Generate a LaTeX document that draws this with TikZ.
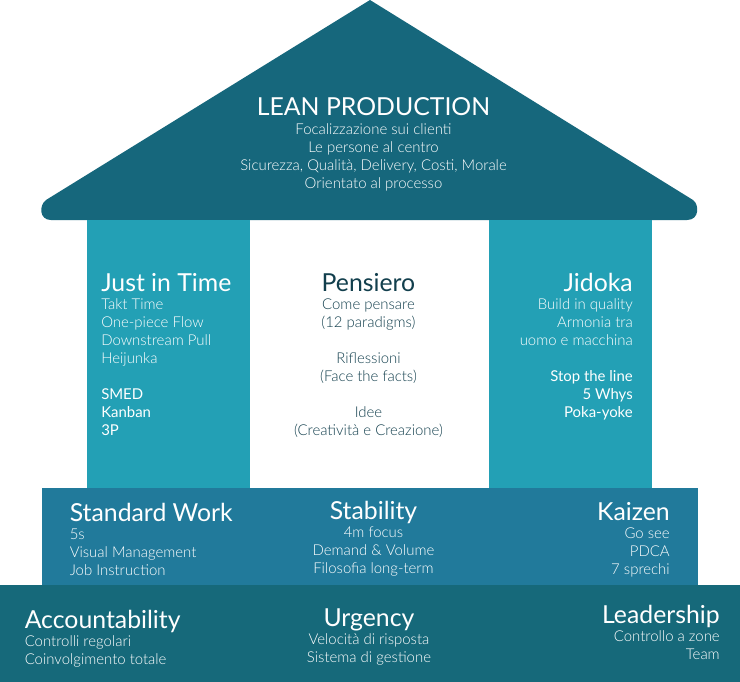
\documentclass[tikz,border=0pt]{standalone}
\usepackage{fontspec}
\setmainfont{Lato Light}[BoldFont=Lato]
\newfontfamily\headfont{Lato}
\definecolor{roof}{HTML}{16677C}
\definecolor{pillar}{HTML}{23A0B5}
\definecolor{midband}{HTML}{217A9B}
\definecolor{base}{HTML}{16697A}
\definecolor{darktxt}{HTML}{123F4D}
\tikzset{x=0.75pt,y=-0.75pt,
 head/.style={font=\headfont\fontsize{18.6}{22}\selectfont,text=white,inner sep=0,anchor=base},
 body/.style={font=\fontsize{11.2}{13.5}\selectfont,text=white,inner sep=0,anchor=base},
 boldbody/.style={font=\headfont\fontsize{11.2}{13.5}\selectfont,text=white,inner sep=0,anchor=base},
 darkhead/.style={head,text=darktxt},
 darkbody/.style={body,text=darktxt}}
\begin{document}
\begin{tikzpicture}
\useasboundingbox (0,0) rectangle (740,682);
\fill[white] (0,0) rectangle (740,682);
\fill[roof] (370,0) -- (693,200) .. controls (699,204) and (700,220) .. (687,220) -- (51,220) .. controls (39,220) and (39,205) .. (46,200) -- cycle;
\fill[pillar] (87,220) rectangle (250,488);
\fill[pillar] (489,220) rectangle (652,488);
\fill[midband] (42,488) rectangle (698,585);
\fill[base] (0,585) rectangle (740,682);
% roof
\node[head] (t0) at (373.5,115) {LEAN PRODUCTION};
\node[body] (a1) at (373.5,134) {Focalizzazione sui clienti};
\node[body] (a2) at (373.5,152) {Le persone al centro};
\node[body] (a3) at (373.5,170) {Sicurezza, Qualità, Delivery, Costi, Morale};
\node[body] (a4) at (373.5,188) {Orientato al processo};
% left pillar
\node[head,anchor=base west] (t1) at (101,291) {Just in Time};
\node[body,anchor=base west] (b1) at (101,309) {Takt Time};
\node[body,anchor=base west] (b2) at (101,327) {One-piece Flow};
\node[body,anchor=base west] (b3) at (101,345) {Downstream Pull};
\node[body,anchor=base west] (b4) at (101,363) {Heijunka};
\node[boldbody,anchor=base west] (b5) at (101,399) {SMED};
\node[boldbody,anchor=base west] (b6) at (101,417) {Kanban};
\node[boldbody,anchor=base west] (b7) at (101,435) {3P};
% centre
\node[darkhead] (t2) at (368.5,291) {Pensiero};
\node[darkbody] (c1) at (368.5,309) {Come pensare};
\node[darkbody] (c2) at (368.5,327) {(12 paradigms)};
\node[darkbody] (c3) at (368.5,363) {Riflessioni};
\node[darkbody] (c4) at (368.5,381) {(Face the facts)};
\node[darkbody] (c5) at (368.5,417) {Idee};
\node[darkbody] (c6) at (368.5,435) {(Creatività e Creazione)};
% right pillar
\node[head,anchor=base east] (t3) at (633,291) {Jidoka};
\node[body,anchor=base east] (d1) at (633,309) {Build in quality};
\node[body,anchor=base east] (d2) at (633,327) {Armonia tra};
\node[body,anchor=base east] (d3) at (633,345) {uomo e macchina};
\node[boldbody,anchor=base east] (d4) at (633,381) {Stop the line};
\node[boldbody,anchor=base east] (d5) at (633,399) {5 Whys};
\node[boldbody,anchor=base east] (d6) at (633,417) {Poka-yoke};
% middle band
\node[head,anchor=base west] (t4) at (69.5,521) {Standard Work};
\node[body,anchor=base west] (e1) at (69.5,539) {5s};
\node[body,anchor=base west] (e2) at (69.5,557) {Visual Management};
\node[body,anchor=base west] (e3) at (69.5,575) {Job Instruction};
\node[head] (t5) at (373.5,519) {Stability};
\node[body] (f1) at (373.5,537) {4m focus};
\node[body] (f2) at (373.5,555) {Demand \& Volume};
\node[body] (f3) at (373.5,573) {Filosofia long-term};
\node[head,anchor=base east] (t6) at (670,520) {Kaizen};
\node[body,anchor=base east] (g1) at (670,538) {Go see};
\node[body,anchor=base east] (g2) at (670,556) {PDCA};
\node[body,anchor=base east] (g3) at (670,574) {7 sprechi};
% base
\node[head,anchor=base west] (t7) at (24.5,628) {Accountability};
\node[body,anchor=base west] (h1) at (24.5,646) {Controlli regolari};
\node[body,anchor=base west] (h2) at (24.5,664) {Coinvolgimento totale};
\node[head] (t8) at (369,626) {Urgency};
\node[body] (i1) at (369,644) {Velocità di risposta};
\node[body] (i2) at (369,662) {Sistema di gestione};
\node[head,anchor=base east] (t9) at (720,623) {Leadership};
\node[body,anchor=base east] (j1) at (720,641) {Controllo a zone};
\node[body,anchor=base east] (j2) at (720,659) {Team};
\end{tikzpicture}
\end{document}
